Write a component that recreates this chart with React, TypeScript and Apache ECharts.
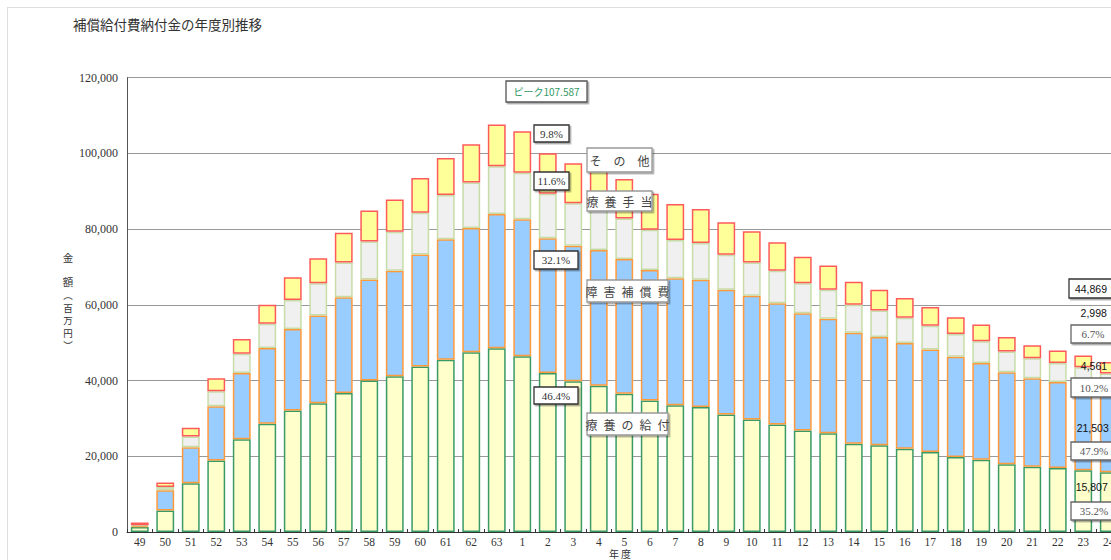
import React, { useEffect, useRef } from 'react';
import * as echarts from 'echarts';

const years = ['49','50','51','52','53','54','55','56','57','58','59','60','61','62','63','1','2','3','4','5','6','7','8','9','10','11','12','13','14','15','16','17','18','19','20','21','22','23','24'];

// 療養の給付 (百万円)
const ryoyoKyufu = [1300,5700,12900,18900,24500,28600,32100,34000,36700,40000,41100,43700,45500,47500,48500,46400,42000,39800,38600,36500,34700,33500,33000,31000,29700,28400,26800,26100,23300,22900,22000,21100,19800,19100,17900,17200,16900,16300,15807];
// 障害補償費
const shogaiHoshohi = [350,5300,9500,14300,17500,20000,21500,23200,25300,26700,27900,29600,31800,32800,35500,36200,35600,35800,35900,35600,34500,33500,33600,33000,32700,32000,31000,30200,29300,28600,27900,27100,26500,25500,24300,23400,22700,22400,21503];
// 療養手当
const ryoyoTeate = [100,900,2800,4000,5100,6400,7700,8500,9200,10000,10300,11000,11700,12000,12600,12300,11700,11200,11500,10700,10600,10100,9700,9200,8800,8600,7900,7700,7400,7000,6700,6300,6000,5800,5500,5300,5000,4800,4561];
// その他
const sonota = [750,1200,2300,3400,3900,5000,6000,6600,7800,8200,8500,9200,9800,10100,10987,10900,10700,10600,9600,10400,9500,9500,9000,8600,8200,7500,7000,6400,6100,5500,5200,4900,4400,4400,3800,3400,3300,3100,2998];

const yTicks = [0, 20000, 40000, 60000, 80000, 100000, 120000];

const JP = '"Noto Sans CJK JP", sans-serif';
const SERIF = '"Liberation Serif", serif';
const SANS = '"Liberation Sans", sans-serif';

function txt(text: string, x: number, y: number, size: number, fill: string, family: string, extra: any = {}) {
  return {
    type: 'text', x, y, z: 110, silent: true,
    style: {
      text, fill, fontSize: size, fontFamily: family,
      textAlign: 'center', textVerticalAlign: 'middle', align: 'center', verticalAlign: 'middle',
      ...extra,
    },
  };
}

function box(x: number, y: number, w: number, h: number, stroke: string) {
  return {
    type: 'rect', z: 105, silent: true,
    shape: { x, y, width: w, height: h },
    style: {
      fill: '#ffffff', stroke, lineWidth: 1.3,
      shadowBlur: 1, shadowOffsetX: 1.5, shadowOffsetY: 1.5, shadowColor: 'rgba(0,0,0,0.35)',
    },
  };
}

export default function App() {
  const ref = useRef<HTMLDivElement>(null);
  useEffect(() => {
    if (!ref.current) return;
    const chart = echarts.init(ref.current, null, { renderer: 'svg' });
    const barStyle = (color: string, border: string) => ({ color, borderColor: border, borderWidth: 1.5 });
    chart.setOption({
      animation: false,
      backgroundColor: '#ffffff',
      grid: { left: 119, top: 69.6, width: 994.5, height: 454.4, containLabel: false },
      xAxis: {
        type: 'category',
        data: years,
        boundaryGap: true,
        axisLine: { lineStyle: { color: '#333', width: 1 } },
        axisTick: { show: true, inside: true, length: 3, lineStyle: { color: '#333' } },
        axisLabel: { interval: 0, fontSize: 11.5, fontFamily: SERIF, color: '#333', margin: 4 },
      },
      yAxis: {
        type: 'value',
        min: yTicks[0],
        max: yTicks[yTicks.length - 1],
        interval: yTicks[1] - yTicks[0],
        axisLine: { show: true, lineStyle: { color: '#555', width: 1 } },
        axisTick: { show: false },
        splitLine: { lineStyle: { color: '#999', width: 1 } },
        axisLabel: {
          fontSize: 12, fontFamily: SERIF, color: '#333', margin: 9,
          formatter: (v: number) => v.toLocaleString('en-US'),
        },
      },
      series: [
        { name: '療養の給付', type: 'bar', stack: 't', barWidth: '70%', data: ryoyoKyufu, itemStyle: barStyle('#FFFFCC', '#3A9A66') },
        { name: '障害補償費', type: 'bar', stack: 't', barWidth: '70%', data: shogaiHoshohi, itemStyle: barStyle('#99CCFF', '#FF9A3C') },
        { name: '療養手当', type: 'bar', stack: 't', barWidth: '70%', data: ryoyoTeate, itemStyle: barStyle('#F0F0F0', '#C8DCA8') },
        { name: 'その他', type: 'bar', stack: 't', barWidth: '70%', data: sonota, itemStyle: barStyle('#FFFF99', '#FF5A5A') },
      ],
      graphic: [
        txt('補償給付費納付金の年度別推移', 65, 16, 13.5, '#333', JP, { textAlign: 'left', align: 'left' }),
        // y-axis name (vertical)
        txt('金', 60, 249, 10.5, '#333', JP),
        txt('額', 60, 273.5, 10.5, '#333', JP),
        txt('︵', 60, 287, 9.5, '#333', JP),
        txt('百', 60, 299.5, 9.5, '#333', JP),
        txt('万', 60, 312, 9.5, '#333', JP),
        txt('円', 60, 324.5, 9.5, '#333', JP),
        txt('︶', 60, 337, 9.5, '#333', JP),
        // x-axis name
        txt('年 度', 612, 545.5, 10, '#333', JP),
        // peak
        box(498, 73, 81, 21, '#555'),
        txt('ピーク107.587', 538.5, 83.5, 10, '#339966', JP),
        // percentage boxes
        box(526, 117, 35, 17, '#333'),
        txt('9.8%', 543.5, 125.5, 11, '#333', SERIF),
        box(526, 164, 35, 18, '#333'),
        txt('11.6%', 543.5, 173, 11, '#333', SERIF),
        box(526, 243, 44, 18, '#333'),
        txt('32.1%', 548, 252, 11, '#333', SERIF),
        box(526, 379, 44, 17, '#333'),
        txt('46.4%', 548, 387.5, 11, '#333', SERIF),
        // category name boxes
        box(579, 140, 65, 24, '#999'),
        txt('そ\u3000の\u3000他', 611.5, 152, 12, '#444', JP),
        box(579, 183, 65, 20, '#999'),
        txt('療\u2002養\u2002手\u2002当', 611.5, 193, 12, '#444', JP),
        box(579, 272, 81, 22, '#999'),
        txt('障\u2002害\u2002補\u2002償\u2002費', 619.5, 283, 12, '#444', JP),
        box(579, 405, 81, 22, '#999'),
        txt('療\u2002養\u2002の\u2002給\u2002付', 619.5, 416, 12, '#444', JP),
        // right side (latest year)
        box(1061, 271, 60, 19, '#333'),
        txt('44,869', 1083, 280.5, 10.5, '#111', SANS),
        txt('2,998', 1085.7, 305.3, 10.5, '#111', SANS),
        box(1063, 317, 60, 18, '#666'),
        txt('6.7%', 1085, 326, 11, '#555', SERIF),
        txt('4,561', 1086, 357.7, 10.5, '#111', SANS),
        box(1063, 370, 60, 19, '#666'),
        txt('10.2%', 1086, 379.5, 11, '#555', SERIF),
        txt('21,503', 1084.7, 420, 10.5, '#111', SANS),
        box(1063, 434, 60, 18, '#666'),
        txt('47.9%', 1086, 443, 11, '#555', SERIF),
        txt('15,807', 1083.7, 479.3, 10.5, '#111', SANS),
        box(1063, 494, 60, 18, '#666'),
        txt('35.2%', 1086, 503, 11, '#555', SERIF),
      ],
    });
    return () => chart.dispose();
  }, []);

  return (
    <div style={{ position: 'fixed', left: 7, top: 7, width: 1131, height: 560, borderLeft: '1px solid #dedede', borderTop: '1px solid #dedede', background: '#fff' }}>
      <div ref={ref} style={{ width: 1130, height: 552 }} />
    </div>
  );
}
